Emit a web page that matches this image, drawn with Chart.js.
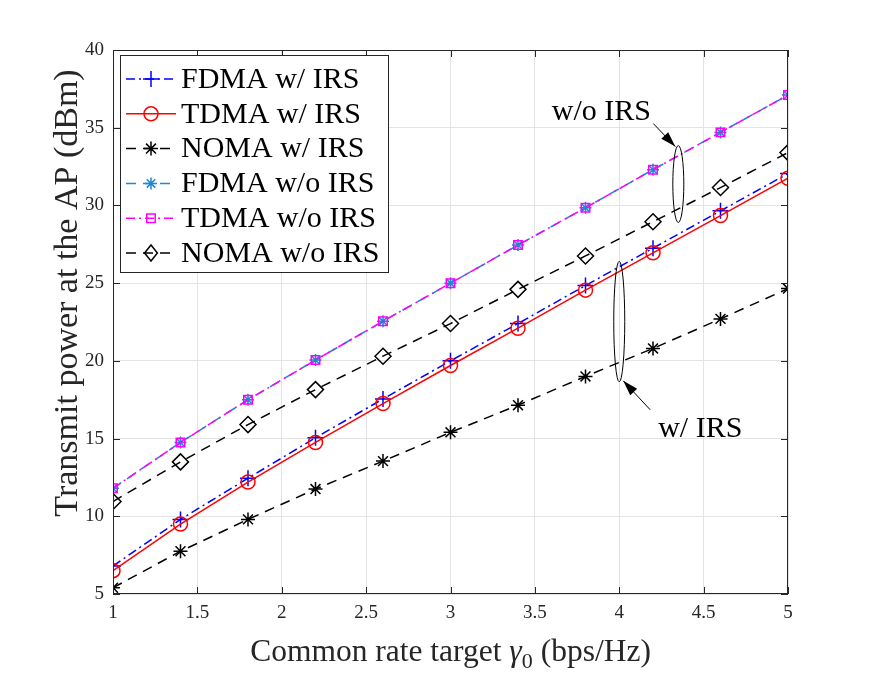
<!DOCTYPE html>
<html lang="en">
<head>
<meta charset="utf-8">
<title>Transmit power vs common rate target</title>
<script src="https://cdn.jsdelivr.net/npm/chart.js"></script>
<style>
  body, html { margin: 0; padding: 0; background: #fff; }
  #chart { display: block; }
</style>
</head>
<body>
<canvas id="chart" width="872" height="678"></canvas>
<script>
// common rate target (bps/Hz)
const rateTargets = [1, 1.4, 1.8, 2.2, 2.6, 3, 3.4, 3.8, 4.2, 4.6, 5];

// transmit power at the AP (dBm)
const fdmaWithIrs = [6.8, 9.8, 12.45, 15.05, 17.55, 20.0, 22.4, 24.85, 27.25, 29.65, 32.05];
const tdmaWithIrs = [6.5, 9.5, 12.2, 14.75, 17.25, 19.7, 22.1, 24.55, 26.95, 29.35, 31.75];
const nomaWithIrs = [5.4, 7.75, 9.8, 11.75, 13.55, 15.4, 17.15, 19.0, 20.8, 22.7, 24.65];
const fdmaNoIrs = [11.8, 14.75, 17.5, 20.05, 22.55, 25.0, 27.45, 29.85, 32.3, 34.7, 37.1];
const tdmaNoIrs = [11.8, 14.75, 17.5, 20.05, 22.55, 25.0, 27.45, 29.85, 32.3, 34.7, 37.1];
const nomaNoIrs = [10.95, 13.5, 15.9, 18.15, 20.3, 22.4, 24.6, 26.75, 28.95, 31.15, 33.4];

const seriesNames = ['FDMA w/ IRS', 'TDMA w/ IRS', 'NOMA w/ IRS', 'FDMA w/o IRS', 'TDMA w/o IRS', 'NOMA w/o IRS'];
const xTickValues = [1, 1.5, 2, 2.5, 3, 3.5, 4, 4.5, 5];
const yTickValues = [5, 10, 15, 20, 25, 30, 35, 40];

const FONT = '"Liberation Serif", "Times New Roman", serif';
const AXIS = '#262626';

// line / marker styles per series
const styles = [
    { color: '#0000ff', dash: [9, 4, 2, 4], marker: 'cross', r: 8 },
    { color: '#ff0000', dash: [], marker: 'circle', r: 7 },
    { color: '#000000', dash: [10, 7], marker: 'star', r: 7 },
    { color: '#1f88d0', dash: [10, 7], marker: 'star', r: 6 },
    { color: '#ff00ff', dash: [9, 4, 2, 4], marker: 'rect', r: 6 },
    { color: '#000000', dash: [10, 7], marker: 'rectRot', r: 8 }
];
const seriesData = [fdmaWithIrs, tdmaWithIrs, nomaWithIrs, fdmaNoIrs, tdmaNoIrs, nomaNoIrs];

const datasets = seriesNames.map((name, i) => ({
    label: name,
    data: rateTargets.map((x, k) => ({ x: x, y: seriesData[i][k] })),
    borderColor: styles[i].color,
    backgroundColor: 'rgba(0,0,0,0)',
    borderWidth: 1.5,
    borderDash: styles[i].dash,
    pointStyle: styles[i].marker,
    pointRadius: styles[i].r,
    pointBorderColor: styles[i].color,
    pointBackgroundColor: 'rgba(0,0,0,0)',
    pointBorderWidth: 1.5,
    tension: 0,
    fill: false,
    order: 6 - i
}));

// marker drawing for the legend samples
function drawMarker(ctx, type, x, y, r) {
    ctx.beginPath();
    if (type === 'circle') {
        ctx.arc(x, y, r, 0, Math.PI * 2);
    } else if (type === 'cross') {
        ctx.moveTo(x - r, y); ctx.lineTo(x + r, y);
        ctx.moveTo(x, y - r); ctx.lineTo(x, y + r);
    } else if (type === 'star') {
        ctx.moveTo(x - r, y); ctx.lineTo(x + r, y);
        ctx.moveTo(x, y - r); ctx.lineTo(x, y + r);
        const d = r * 0.707;
        ctx.moveTo(x - d, y - d); ctx.lineTo(x + d, y + d);
        ctx.moveTo(x - d, y + d); ctx.lineTo(x + d, y - d);
    } else if (type === 'rect') {
        const d = r * 0.707;
        ctx.rect(x - d, y - d, 2 * d, 2 * d);
    } else if (type === 'rectRot') {
        ctx.moveTo(x, y - r); ctx.lineTo(x + r * 0.8, y);
        ctx.lineTo(x, y + r); ctx.lineTo(x - r * 0.8, y); ctx.closePath();
    }
    ctx.stroke();
}

function arrow(ctx, x1, y1, x2, y2) {
    ctx.beginPath();
    ctx.moveTo(x1, y1); ctx.lineTo(x2, y2);
    ctx.stroke();
    const a = Math.atan2(y2 - y1, x2 - x1);
    const L = 16, W = 0.3;
    ctx.beginPath();
    ctx.moveTo(x2, y2);
    ctx.lineTo(x2 - L * Math.cos(a - W), y2 - L * Math.sin(a - W));
    ctx.lineTo(x2 - L * Math.cos(a + W), y2 - L * Math.sin(a + W));
    ctx.closePath();
    ctx.fill();
}

const decorations = {
    id: 'decorations',
    afterDraw(chart) {
        const ctx = chart.ctx;
        const a = chart.chartArea;
        const xs = chart.scales.x, ys = chart.scales.y;
        ctx.save();

        // box and inward ticks
        ctx.strokeStyle = AXIS;
        ctx.lineWidth = 1;
        ctx.setLineDash([]);
        ctx.strokeRect(a.left + 0.5, a.top + 0.5, a.right - a.left - 1, a.bottom - a.top - 1);
        const tl = 7;
        ctx.beginPath();
        xTickValues.forEach(v => {
            const px = Math.round(xs.getPixelForValue(v)) + 0.5;
            ctx.moveTo(px, a.bottom); ctx.lineTo(px, a.bottom - tl);
            ctx.moveTo(px, a.top); ctx.lineTo(px, a.top + tl);
        });
        yTickValues.forEach(v => {
            const py = Math.round(ys.getPixelForValue(v)) + 0.5;
            ctx.moveTo(a.left, py); ctx.lineTo(a.left + tl, py);
            ctx.moveTo(a.right, py); ctx.lineTo(a.right - tl, py);
        });
        ctx.stroke();

        // ellipses and arrows
        ctx.strokeStyle = '#000';
        ctx.fillStyle = '#000';
        ctx.lineWidth = 1;
        const e1x = xs.getPixelForValue(4.35);
        const e1t = ys.getPixelForValue(33.85), e1b = ys.getPixelForValue(28.9);
        ctx.beginPath();
        ctx.ellipse(e1x, (e1t + e1b) / 2, 5.5, (e1b - e1t) / 2, 0, 0, Math.PI * 2);
        ctx.stroke();
        const e2x = xs.getPixelForValue(4.0);
        const e2t = ys.getPixelForValue(26.4), e2b = ys.getPixelForValue(18.65);
        ctx.beginPath();
        ctx.ellipse(e2x, (e2t + e2b) / 2, 5.5, (e2b - e2t) / 2, 0, 0, Math.PI * 2);
        ctx.stroke();
        arrow(ctx, e1x - 25, e1t - 22, e1x - 3, e1t + 1);
        arrow(ctx, e2x + 31, e2b + 28, e2x + 4, e2b - 1);

        ctx.font = '30px ' + FONT;
        ctx.textBaseline = 'alphabetic';
        ctx.textAlign = 'center';
        ctx.fillText('w/o IRS', e1x - 77, e1t - 26);
        ctx.fillText('w/ IRS', e2x + 81, e2b + 55);

        // x axis title with italic gamma and subscript
        const parts = [
            { t: 'Common rate target ', f: '31.5px ' + FONT, dy: 0 },
            { t: '\u03b3', f: 'italic 31.5px ' + FONT, dy: 0 },
            { t: '0', f: '22px ' + FONT, dy: 7 },
            { t: ' (bps/Hz)', f: '31.5px ' + FONT, dy: 0 }
        ];
        let total = 0;
        parts.forEach(p => { ctx.font = p.f; p.w = ctx.measureText(p.t).width; total += p.w; });
        let cx = (a.left + a.right) / 2 - total / 2;
        ctx.textAlign = 'left';
        ctx.fillStyle = AXIS;
        parts.forEach(p => {
            ctx.font = p.f;
            ctx.fillText(p.t, cx, 661 + p.dy);
            cx += p.w;
        });

        // y axis title
        ctx.save();
        ctx.translate(77, 293);
        ctx.rotate(-Math.PI / 2);
        ctx.font = '34px ' + FONT;
        ctx.textAlign = 'center';
        ctx.textBaseline = 'alphabetic';
        ctx.fillText('Transmit power at the AP (dBm)', 0, 0);
        ctx.restore();

        // legend
        const lx = 120, ly = 55, lw = 268, lh = 217;
        ctx.fillStyle = '#fff';
        ctx.fillRect(lx, ly, lw, lh);
        ctx.strokeStyle = AXIS;
        ctx.strokeRect(lx + 0.5, ly + 0.5, lw, lh);
        ctx.font = '30px ' + FONT;
        ctx.textBaseline = 'middle';
        seriesNames.forEach((name, i) => {
            const y = 79 + i * 34.8;
            const s = styles[i];
            ctx.strokeStyle = s.color;
            ctx.lineWidth = 1.5;
            ctx.setLineDash(s.dash);
            ctx.beginPath();
            ctx.moveTo(126, y); ctx.lineTo(176, y);
            ctx.stroke();
            ctx.setLineDash([]);
            drawMarker(ctx, s.marker, 151, y, s.r);
            ctx.fillStyle = '#000';
            ctx.fillText(name, 181, y + 1);
        });
        ctx.restore();
    }
};

new Chart(document.getElementById('chart'), {
    type: 'line',
    data: { datasets: datasets },
    options: {
        responsive: false,
        animation: false,
        devicePixelRatio: 1,
        layout: { padding: { top: 50, right: 84, left: 0, bottom: 0 } },
        plugins: { legend: { display: false }, tooltip: { enabled: false } },
        scales: {
            x: {
                type: 'linear',
                min: 1, max: 5,
                afterFit(s) { s.height = 84; },
                afterBuildTicks(s) { s.ticks = xTickValues.map(v => ({ value: v })); },
                grid: { color: '#e3e3e3', drawTicks: false },
                border: { display: false },
                ticks: {
                    color: AXIS,
                    padding: 8,
                    maxRotation: 0,
                    font: { family: FONT, size: 19 },
                    callback: v => String(v)
                }
            },
            y: {
                type: 'linear',
                min: 5, max: 40,
                afterFit(s) { s.width = 113; },
                afterBuildTicks(s) { s.ticks = yTickValues.map(v => ({ value: v })); },
                grid: { color: '#e3e3e3', drawTicks: false },
                border: { display: false },
                ticks: {
                    color: AXIS,
                    padding: 9,
                    font: { family: FONT, size: 19 },
                    callback: v => String(v)
                }
            }
        }
    },
    plugins: [decorations]
});
</script>
</body>
</html>
